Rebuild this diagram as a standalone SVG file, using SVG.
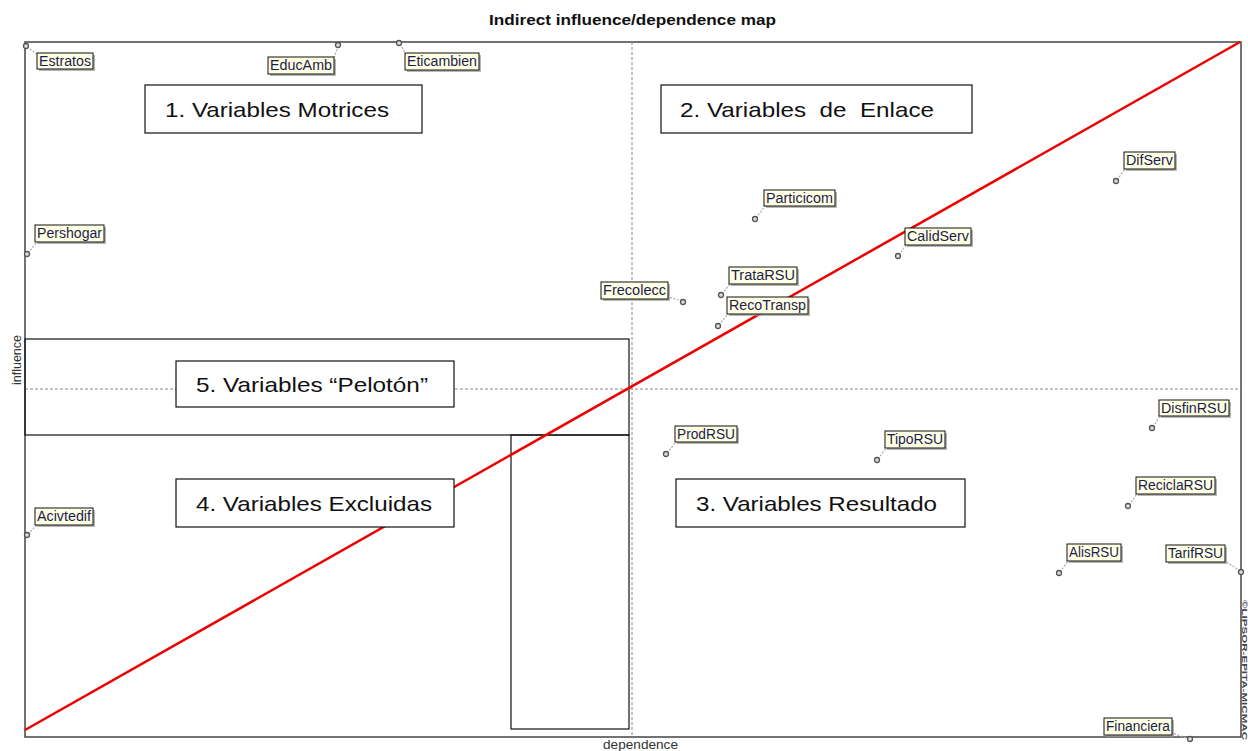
<svg xmlns="http://www.w3.org/2000/svg" width="1248" height="751" viewBox="0 0 1248 751">
  <style>
    text { font-family: "Liberation Sans", Arial, sans-serif; }
    .title { font-size: 15px; font-weight: bold; fill: #111; }
    .axis { font-size: 13px; fill: #333; }
    .frame { fill: none; stroke: #444; stroke-width: 1.5; }
    .mid { fill: none; stroke: #888; stroke-width: 1; stroke-dasharray: 3 2; }
    .zone { fill: #fff; stroke: #111; stroke-width: 1.2; }
    .zoneline { fill: none; stroke: #111; stroke-width: 1.2; }
    .zlabel { font-size: 21px; fill: #111; }
    .tag { fill: #ffffe4; stroke: #111; stroke-width: 1; }
    .shadow { fill: #999; opacity: 0.7; }
    .tagtext { font-size: 14px; fill: #1c1c50; }
    .leader { fill: none; stroke: #aaa; stroke-width: 1.2; stroke-dasharray: 2 1.5; }
    .pt { fill: #ddd; stroke: #555; stroke-width: 1.3; }
    .diag { fill: none; stroke: #ee0000; stroke-width: 2.5; }
  </style>

  <rect width="1248" height="751" fill="#fff"/>

  <!-- title and axis captions -->
  <text class="title" x="489" y="25" textLength="287" lengthAdjust="spacingAndGlyphs">Indirect influence/dependence map</text>
  <text class="axis" x="603" y="749" textLength="75" lengthAdjust="spacingAndGlyphs">dependence</text>
  <text class="axis" transform="translate(21,385) rotate(-90)" textLength="50" lengthAdjust="spacingAndGlyphs">influence</text>
  <text transform="translate(1242,600) rotate(90)" style="font-size:8px;fill:#444;font-weight:bold" textLength="140" lengthAdjust="spacingAndGlyphs">©LIPSOR-EPITA-MICMAC</text>

  <!-- plot frame and quadrant guides -->
  <g id="plot">
    <rect class="frame" x="25" y="42" width="1216" height="695"/>
    <line class="mid" x1="632" y1="42" x2="632" y2="737"/>
    <line class="mid" x1="25" y1="389" x2="1241" y2="389"/>
  </g>

  <!-- zone frames -->
  <g id="zones">
    <rect class="zoneline" x="25" y="339" width="604" height="96"/>
    <rect class="zoneline" x="511" y="435" width="118" height="294"/>
  </g>

  <!-- diagonal -->
  <g id="connectors">
    <line class="diag" x1="25" y1="730" x2="1240" y2="42"/>
  </g>

  <!-- zone labels -->
  <g id="zone-motrices">
    <rect class="zone" x="145" y="85" width="277" height="48"/>
    <text class="zlabel" x="165" y="117" textLength="224" lengthAdjust="spacingAndGlyphs">1. Variables Motrices</text>
  </g>
  <g id="zone-enlace">
    <rect class="zone" x="661" y="85" width="311" height="48"/>
    <text class="zlabel" x="680" y="117" xml:space="preserve" textLength="254" lengthAdjust="spacingAndGlyphs">2. Variables  de  Enlace</text>
  </g>
  <g id="zone-peloton">
    <rect class="zone" x="176" y="361" width="278" height="46"/>
    <text class="zlabel" x="196" y="392" textLength="232" lengthAdjust="spacingAndGlyphs">5. Variables “Pelotón”</text>
  </g>
  <g id="zone-excluidas">
    <rect class="zone" x="176" y="479" width="278" height="48"/>
    <text class="zlabel" x="196" y="511" textLength="236" lengthAdjust="spacingAndGlyphs">4. Variables Excluidas</text>
  </g>
  <g id="zone-resultado">
    <rect class="zone" x="676" y="479" width="289" height="48"/>
    <text class="zlabel" x="696" y="511" textLength="241" lengthAdjust="spacingAndGlyphs">3. Variables Resultado</text>
  </g>

  <!-- variables: leader, point, tag -->
  <g id="v-estratos">
    <line class="leader" x1="27" y1="47" x2="38" y2="55"/>
    <circle class="pt" cx="26" cy="46" r="2.5"/>
    <rect class="shadow" x="39" y="55" width="56" height="16"/>
    <rect class="tag" x="37" y="53" width="56" height="16"/>
    <text class="tagtext" x="39" y="66" textLength="52" lengthAdjust="spacingAndGlyphs">Estratos</text>
  </g>
  <g id="v-educamb">
    <line class="leader" x1="338" y1="46" x2="334" y2="58"/>
    <circle class="pt" cx="338" cy="45" r="2.5"/>
    <rect class="shadow" x="270" y="59" width="66" height="17"/>
    <rect class="tag" x="268" y="57" width="66" height="17"/>
    <text class="tagtext" x="270" y="70" textLength="62" lengthAdjust="spacingAndGlyphs">EducAmb</text>
  </g>
  <g id="v-eticambien">
    <line class="leader" x1="400" y1="44" x2="406" y2="54"/>
    <circle class="pt" cx="399" cy="43" r="2.5"/>
    <rect class="shadow" x="407" y="55" width="74" height="17"/>
    <rect class="tag" x="405" y="53" width="74" height="17"/>
    <text class="tagtext" x="407" y="66" textLength="70" lengthAdjust="spacingAndGlyphs">Eticambien</text>
  </g>
  <g id="v-pershogar">
    <line class="leader" x1="28" y1="253" x2="37" y2="242"/>
    <circle class="pt" cx="27" cy="254" r="2.5"/>
    <rect class="shadow" x="37" y="227" width="69" height="17"/>
    <rect class="tag" x="35" y="225" width="69" height="17"/>
    <text class="tagtext" x="37" y="238" textLength="65" lengthAdjust="spacingAndGlyphs">Pershogar</text>
  </g>
  <g id="v-acivtedif">
    <line class="leader" x1="28" y1="534" x2="37" y2="525"/>
    <circle class="pt" cx="27" cy="535" r="2.5"/>
    <rect class="shadow" x="37" y="510" width="58" height="17"/>
    <rect class="tag" x="35" y="508" width="58" height="17"/>
    <text class="tagtext" x="37" y="521" textLength="54" lengthAdjust="spacingAndGlyphs">Acivtedif</text>
  </g>
  <g id="v-particicom">
    <line class="leader" x1="756" y1="218" x2="765" y2="206"/>
    <circle class="pt" cx="755" cy="219" r="2.5"/>
    <rect class="shadow" x="766" y="192" width="71" height="16"/>
    <rect class="tag" x="764" y="190" width="71" height="16"/>
    <text class="tagtext" x="766" y="203" textLength="67" lengthAdjust="spacingAndGlyphs">Particicom</text>
  </g>
  <g id="v-calidserv">
    <line class="leader" x1="899" y1="255" x2="906" y2="245"/>
    <circle class="pt" cx="898" cy="256" r="2.5"/>
    <rect class="shadow" x="907" y="230" width="66" height="17"/>
    <rect class="tag" x="905" y="228" width="66" height="17"/>
    <text class="tagtext" x="907" y="241" textLength="62" lengthAdjust="spacingAndGlyphs">CalidServ</text>
  </g>
  <g id="v-tratarsu">
    <line class="leader" x1="722" y1="294" x2="730" y2="284"/>
    <circle class="pt" cx="721" cy="295" r="2.5"/>
    <rect class="shadow" x="731" y="269" width="68" height="17"/>
    <rect class="tag" x="729" y="267" width="68" height="17"/>
    <text class="tagtext" x="731" y="280" textLength="64" lengthAdjust="spacingAndGlyphs">TrataRSU</text>
  </g>
  <g id="v-recotransp">
    <line class="leader" x1="719" y1="325" x2="728" y2="314"/>
    <circle class="pt" cx="718" cy="326" r="2.5"/>
    <rect class="shadow" x="729" y="299" width="81" height="17"/>
    <rect class="tag" x="727" y="297" width="81" height="17"/>
    <text class="tagtext" x="729" y="310" textLength="77" lengthAdjust="spacingAndGlyphs">RecoTransp</text>
  </g>
  <g id="v-frecolecc">
    <line class="leader" x1="682" y1="301" x2="668" y2="297"/>
    <circle class="pt" cx="683" cy="302" r="2.5"/>
    <rect class="shadow" x="603" y="284" width="67" height="17"/>
    <rect class="tag" x="601" y="282" width="67" height="17"/>
    <text class="tagtext" x="603" y="295" textLength="63" lengthAdjust="spacingAndGlyphs">Frecolecc</text>
  </g>
  <g id="v-difserv">
    <line class="leader" x1="1117" y1="180" x2="1125" y2="169"/>
    <circle class="pt" cx="1116" cy="181" r="2.5"/>
    <rect class="shadow" x="1126" y="154" width="51" height="17"/>
    <rect class="tag" x="1124" y="152" width="51" height="17"/>
    <text class="tagtext" x="1126" y="165" textLength="47" lengthAdjust="spacingAndGlyphs">DifServ</text>
  </g>
  <g id="v-disfinrsu">
    <line class="leader" x1="1153" y1="427" x2="1160" y2="416"/>
    <circle class="pt" cx="1152" cy="428" r="2.5"/>
    <rect class="shadow" x="1161" y="402" width="70" height="16"/>
    <rect class="tag" x="1159" y="400" width="70" height="16"/>
    <text class="tagtext" x="1161" y="413" textLength="66" lengthAdjust="spacingAndGlyphs">DisfinRSU</text>
  </g>
  <g id="v-reciclarsu">
    <line class="leader" x1="1129" y1="505" x2="1137" y2="494"/>
    <circle class="pt" cx="1128" cy="506" r="2.5"/>
    <rect class="shadow" x="1138" y="479" width="79" height="17"/>
    <rect class="tag" x="1136" y="477" width="79" height="17"/>
    <text class="tagtext" x="1138" y="490" textLength="75" lengthAdjust="spacingAndGlyphs">ReciclaRSU</text>
  </g>
  <g id="v-alisrsu">
    <line class="leader" x1="1060" y1="572" x2="1068" y2="561"/>
    <circle class="pt" cx="1059" cy="573" r="2.5"/>
    <rect class="shadow" x="1069" y="546" width="54" height="17"/>
    <rect class="tag" x="1067" y="544" width="54" height="17"/>
    <text class="tagtext" x="1069" y="557" textLength="50" lengthAdjust="spacingAndGlyphs">AlisRSU</text>
  </g>
  <g id="v-tarifrsu">
    <line class="leader" x1="1240" y1="571" x2="1225" y2="561"/>
    <circle class="pt" cx="1241" cy="572" r="2.5"/>
    <rect class="shadow" x="1168" y="547" width="59" height="17"/>
    <rect class="tag" x="1166" y="545" width="59" height="17"/>
    <text class="tagtext" x="1168" y="558" textLength="55" lengthAdjust="spacingAndGlyphs">TarifRSU</text>
  </g>
  <g id="v-prodrsu">
    <line class="leader" x1="667" y1="453" x2="676" y2="442"/>
    <circle class="pt" cx="666" cy="454" r="2.5"/>
    <rect class="shadow" x="677" y="428" width="62" height="16"/>
    <rect class="tag" x="675" y="426" width="62" height="16"/>
    <text class="tagtext" x="677" y="439" textLength="58" lengthAdjust="spacingAndGlyphs">ProdRSU</text>
  </g>
  <g id="v-tiporsu">
    <line class="leader" x1="878" y1="459" x2="886" y2="448"/>
    <circle class="pt" cx="877" cy="460" r="2.5"/>
    <rect class="shadow" x="887" y="433" width="60" height="17"/>
    <rect class="tag" x="885" y="431" width="60" height="17"/>
    <text class="tagtext" x="887" y="444" textLength="56" lengthAdjust="spacingAndGlyphs">TipoRSU</text>
  </g>
  <g id="v-financiera">
    <line class="leader" x1="1189" y1="739" x2="1172" y2="733"/>
    <circle class="pt" cx="1190" cy="739" r="2.5"/>
    <rect class="shadow" x="1106" y="720" width="68" height="17"/>
    <rect class="tag" x="1104" y="718" width="68" height="17"/>
    <text class="tagtext" x="1106" y="731" textLength="64" lengthAdjust="spacingAndGlyphs">Financiera</text>
  </g>
</svg>
